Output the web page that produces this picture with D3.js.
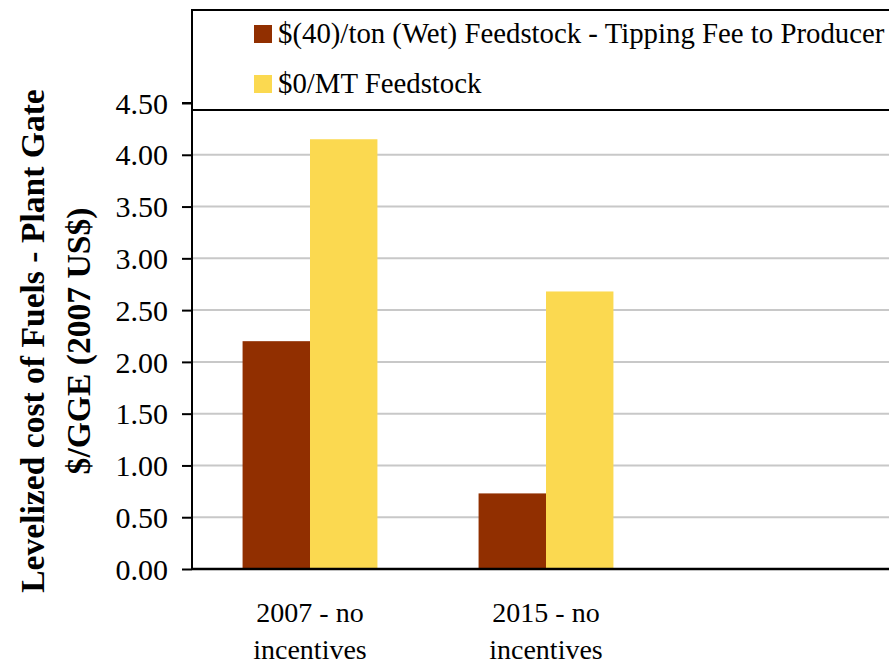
<!DOCTYPE html>
<html>
<head>
<meta charset="utf-8">
<script src="https://cdn.jsdelivr.net/npm/d3@7"></script>
<style>
  body { margin: 0; background: #fff; }
  svg { display: block; }
  text { font-family: "Liberation Serif", "Times New Roman", serif; fill: #000; }
</style>
</head>
<body>
<svg id="chart" width="889" height="666"></svg>
<script>
// Scenario categories (third slot left empty on the axis)
const categories = ["2007 - no incentives", "2015 - no incentives", ""];
const categoryLines = [["2007 - no", "incentives"], ["2015 - no", "incentives"], []];

// Series
const seriesNames = [
  "$(40)/ton (Wet) Feedstock - Tipping Fee to Producer",
  "$0/MT Feedstock"
];
const tippingFeeCost = [2.20, 0.73];   // $/GGE
const zeroFeedstockCost = [4.15, 2.68]; // $/GGE
const seriesColors = ["#912f00", "#fbd950"];

// Axis ticks
const yTicks = [0, 0.5, 1, 1.5, 2, 2.5, 3, 3.5, 4, 4.5];
const yTitleLines = ["Levelized cost of Fuels - Plant Gate", "$/GGE (2007 US$)"];

const svg = d3.select("#chart");
const plot = { left: 192, right: 900, top: 103, bottom: 569 };

const x = d3.scaleBand().domain(categories).range([plot.left, plot.right]).padding(0);
const x1 = d3.scaleBand().domain(seriesNames).range([0, x.bandwidth()])
  .paddingInner(0).paddingOuter(0.75);
const y = d3.scaleLinear().domain([0, 4.5]).range([plot.bottom, plot.top]);

const seriesValues = [tippingFeeCost, zeroFeedstockCost];
const rows = [];
seriesNames.forEach((s, si) => {
  seriesValues[si].forEach((v, ci) => rows.push({ cat: categories[ci], series: s, si, value: v }));
});

// Gridlines
svg.append("g")
  .selectAll("line")
  .data(yTicks.filter(t => t > 0))
  .join("line")
  .attr("x1", plot.left).attr("x2", 889)
  .attr("y1", d => y(d)).attr("y2", d => y(d))
  .attr("stroke", "#c8c8c8")
  .attr("stroke-width", 2);

// Bars
svg.append("g")
  .selectAll("rect")
  .data(rows)
  .join("rect")
  .attr("x", d => x(d.cat) + x1(d.series))
  .attr("width", x1.bandwidth())
  .attr("y", d => y(d.value))
  .attr("height", d => y(0) - y(d.value))
  .attr("fill", d => seriesColors[d.si]);

// Y axis
const yAxis = svg.append("g")
  .attr("transform", `translate(${plot.left},0)`)
  .call(d3.axisLeft(y).tickValues(yTicks).tickFormat(d3.format(".2f"))
    .tickSize(10).tickPadding(14));
yAxis.select(".domain").attr("stroke", "#000").attr("stroke-width", 2)
  .attr("d", `M-10,${plot.top}H0V${plot.bottom}`);
yAxis.selectAll(".tick line").attr("stroke", "#000").attr("stroke-width", 2);
yAxis.selectAll(".tick text")
  .style("font-family", '"Liberation Serif", serif')
  .attr("font-size", 30)
  .attr("dy", "0.34em")
  .attr("fill", "#000");

// X axis line
svg.append("line")
  .attr("x1", plot.left).attr("x2", 889)
  .attr("y1", y(0)).attr("y2", y(0))
  .attr("stroke", "#000").attr("stroke-width", 2.5);

// Category labels (two lines each)
const xl = svg.append("g").selectAll("text")
  .data(categories.filter(c => c !== ""))
  .join("text")
  .attr("text-anchor", "middle")
  .attr("font-size", 28)
  .attr("x", d => x(d) + x.bandwidth() / 2);
xl.selectAll("tspan")
  .data((d, i) => categoryLines[i])
  .join("tspan")
  .attr("x", function () { return d3.select(this.parentNode).attr("x"); })
  .attr("y", (d, i) => 622 + i * 37)
  .text(d => d);

// Y axis title
const yTitle = svg.append("text")
  .attr("transform", "translate(0,341) rotate(-90)")
  .attr("text-anchor", "middle")
  .attr("font-weight", "bold")
  .attr("font-size", 33.6);
yTitle.selectAll("tspan")
  .data(yTitleLines)
  .join("tspan")
  .attr("x", 0)
  .attr("y", (d, i) => 44 + i * 46)
  .text(d => d);

// Legend box, overlapping the top of the plot
const legend = svg.append("g");
legend.append("rect")
  .attr("x", plot.left).attr("y", 10)
  .attr("width", 720).attr("height", 100)
  .attr("fill", "#fff")
  .attr("stroke", "#000").attr("stroke-width", 2);

const items = legend.selectAll("g.item")
  .data(seriesNames)
  .join("g")
  .attr("class", "item")
  .attr("transform", (d, i) => `translate(254,${25 + i * 50})`);
items.append("rect")
  .attr("width", 18).attr("height", 18)
  .attr("fill", (d, i) => seriesColors[i]);
items.append("text")
  .attr("x", 24).attr("y", 18)
  .attr("font-size", 28.8)
  .text(d => d);
</script>
</body>
</html>
